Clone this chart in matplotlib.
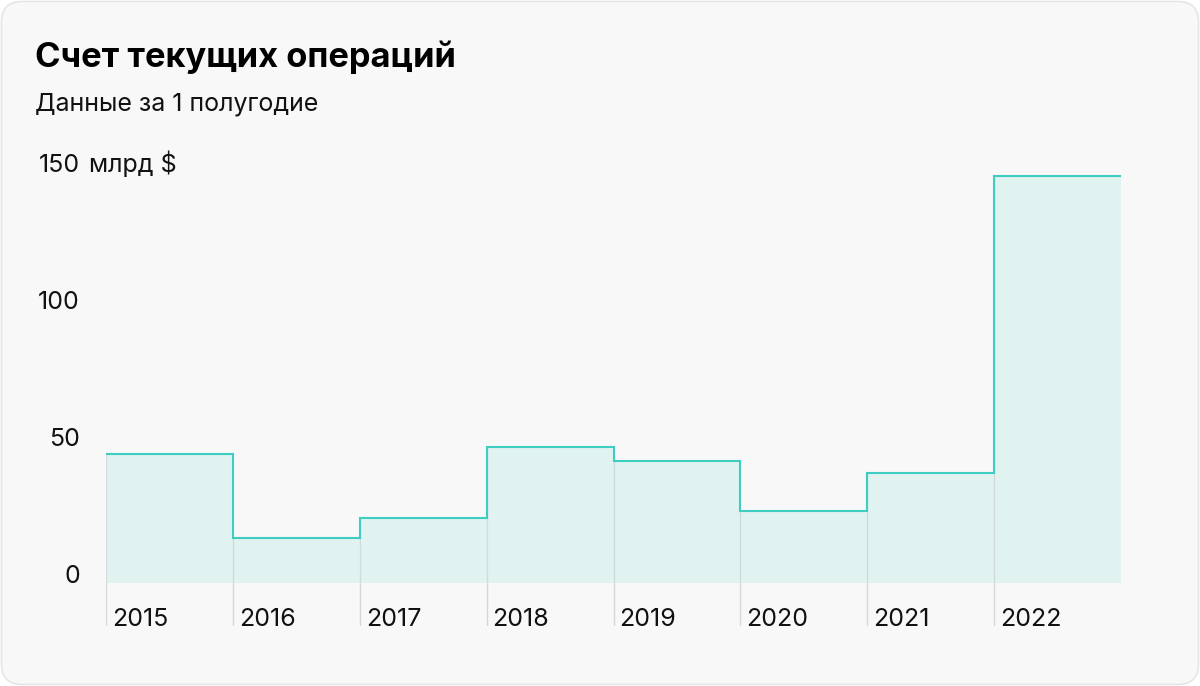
import matplotlib
matplotlib.use('Agg')
import matplotlib.pyplot as plt
import matplotlib.transforms as mtransforms
from matplotlib.patches import FancyBboxPatch
import numpy as np

# данные: счет текущих операций за 1 полугодие, млрд $
years = ['2015', '2016', '2017', '2018', '2019', '2020', '2021', '2022']
values = [47.1, 16.4, 23.7, 49.6, 44.5, 26.3, 40.1, 148.5]
y_ticks = [0, 50, 100, 150]

title = 'Счет текущих операций'
subtitle = 'Данные за 1 полугодие'

line_color = '#3dcdc1'
fill_color = '#e0f3f1'
grid_color = '#d3dada'

plt.rcParams['font.family'] = ['Inter', 'DejaVu Sans']

W, H = 1200, 686
fig = plt.figure(figsize=(W / 100, H / 100), dpi=100)
fig.patch.set_facecolor('white')

# карточка с закругленными углами
card = FancyBboxPatch((1.5 / W, 1.5 / H), (W - 3) / W, (H - 3) / H,
                      boxstyle='round,pad=0,rounding_size=0.017',
                      transform=fig.transFigure, facecolor='#f8f8f8',
                      edgecolor='#e6e6e6', linewidth=1.2, zorder=-10,
                      mutation_aspect=W / H)
fig.patches.append(card)

fig.text(35 / W, 1 - 67 / H, title, fontsize=24.8, fontweight='bold',
         color='#000000', va='baseline', ha='left')
fig.text(35 / W, 1 - 110 / H, subtitle, fontsize=18,
         color='#111111', va='baseline', ha='left')

# оси: 0 на 583 px, 2.74 px на единицу
px_per_unit = 2.74
ax_left, ax_right = 106, 1121
ax_bottom, ax_top = 626, 140
y0 = 583
ax = fig.add_axes([ax_left / W, 1 - ax_bottom / H,
                   (ax_right - ax_left) / W, (ax_bottom - ax_top) / H])
ax.set_facecolor('none')
ax.set_zorder(2)
ax.set_xlim(0, len(values))
ax.set_ylim(-(ax_bottom - y0) / px_per_unit, (y0 - ax_top) / px_per_unit)
for s in ax.spines.values():
    s.set_visible(False)
ax.set_xticks([])
ax.set_yticks([])

edges = np.arange(len(values) + 1)
ylo = ax.get_ylim()[0]

ax.stairs(values, edges, baseline=0, fill=True, color=fill_color, zorder=1)
# вертикальные линии у левого края каждого столбца
ax.vlines(edges[:-1], ylo, values, color=grid_color, linewidth=1.0, zorder=2)
ax.stairs(values, edges, baseline=None, color=line_color, linewidth=1.5, zorder=3)

# подписи годов, обрезаются по низу осей
for i, yr in enumerate(years):
    ax.text(edges[i] + 6 / 126.9, -(626.5 - y0) / px_per_unit, yr,
            fontsize=18, color='#111111', ha='left', va='baseline',
            clip_on=True)

# подписи оси y
trans = mtransforms.blended_transform_factory(fig.transFigure, ax.transData)
for v in y_ticks:
    ax.text(80 / W, v, str(v), transform=trans, fontsize=18,
            color='#111111', ha='right', va='baseline', clip_on=False)
ax.text(89 / W, y_ticks[-1], 'млрд $', transform=trans, fontsize=18,
        color='#111111', ha='left', va='baseline', clip_on=False)

fig.savefig('out.png', dpi=100, facecolor=fig.get_facecolor())
